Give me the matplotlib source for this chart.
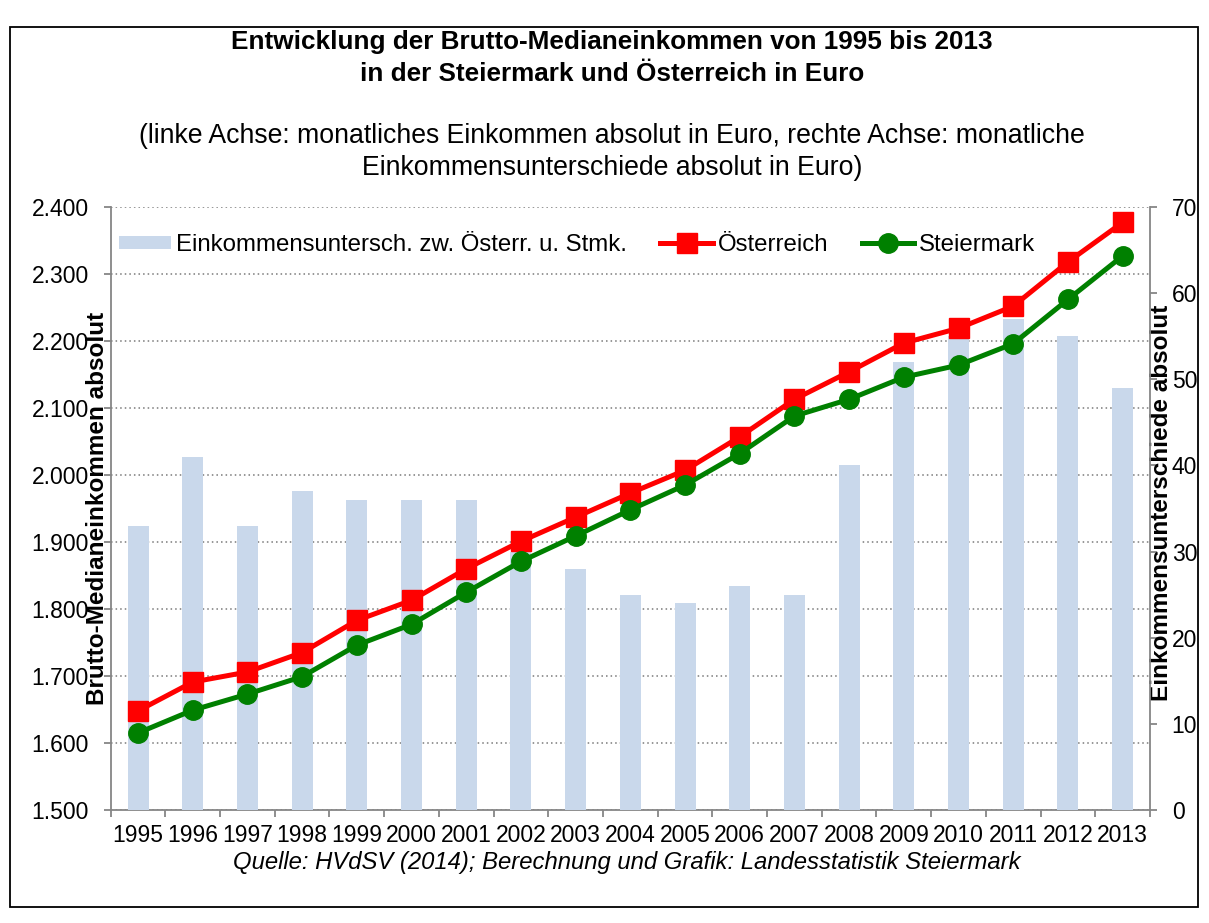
import numpy as np
import matplotlib
matplotlib.use("Agg")
import matplotlib.pyplot as plt
from matplotlib.patches import Rectangle
from matplotlib.ticker import FuncFormatter, MultipleLocator

plt.rcParams["font.family"] = ["Liberation Sans", "DejaVu Sans"]

years = [str(y) for y in range(1995, 2014)]
oesterreich = [1648, 1691, 1706, 1735, 1783, 1813, 1860, 1901, 1937, 1973,
               2007, 2057, 2113, 2154, 2197, 2219, 2252, 2318, 2377]
steiermark = [1615, 1649, 1673, 1699, 1746, 1777, 1825, 1871, 1909, 1948,
              1985, 2032, 2088, 2113, 2146, 2164, 2196, 2262, 2327]
differenz = [33, 41, 33, 37, 36, 36, 36, 30, 28, 25,
             24, 26, 25, 40, 52, 55, 57, 55, 49]

W, H = 1209, 923
fig = plt.figure(figsize=(W / 100, H / 100), dpi=100)

# plot area in pixels: x 110.7..1150, y 207..810
left, right, top, bottom = 110.7, 1150, 207, 810
rect = [left / W, 1 - bottom / H, (right - left) / W, (bottom - top) / H]

grey = "#868686"
x = np.arange(len(years))

ax = fig.add_axes(rect)
ax2 = ax.twinx()
ax3 = fig.add_axes(rect, sharex=ax, sharey=ax)
ax3.set_axis_off()

# left axis (income)
ax.set_ylim(1500, 2400)
ax.yaxis.set_major_locator(MultipleLocator(100))
ax.yaxis.set_major_formatter(FuncFormatter(lambda v, p: f"{v:,.0f}".replace(",", ".")))
ax.grid(axis="y", color="#7a7a7a", linestyle=(0, (1, 2)), linewidth=1.1)
ax.set_axisbelow(True)
ax.set_xlim(-0.5, len(years) - 0.5)
ax.set_xticks(x)
ax.set_xticklabels(years)
ax.set_xticks(np.arange(-0.5, len(years), 1), minor=True)
ax.tick_params(axis="x", which="major", length=0, pad=10, labelsize=16.5)
ax.tick_params(axis="x", which="minor", length=5, width=1.3, color=grey)
ax.tick_params(axis="y", length=5, width=1.3, color=grey, pad=10.8, labelsize=16.5)
for s in ["top", "right"]:
    ax.spines[s].set_visible(False)
for s in ["left", "bottom"]:
    ax.spines[s].set_color(grey)
    ax.spines[s].set_linewidth(1.3)

ax.set_ylabel("Brutto-Medianeinkommen absolut", fontsize=17.5, fontweight="bold")
ax.yaxis.set_label_coords(-0.002, 0.5)

# right axis (difference bars)
bars = ax2.bar(x, differenz, width=0.385, color="#c9d8eb",
               label="Einkommensuntersch. zw. Österr. u. Stmk.")
ax2.set_ylim(0, 70)
ax2.yaxis.set_major_locator(MultipleLocator(10))
ax2.tick_params(axis="y", length=5, width=1.3, color=grey, pad=10.6, labelsize=16.5)
for s in ["top", "left", "bottom"]:
    ax2.spines[s].set_visible(False)
ax2.spines["right"].set_color(grey)
ax2.spines["right"].set_linewidth(1.3)
ax2.set_ylabel("Einkommensunterschiede absolut", fontsize=17.5, fontweight="bold",
               rotation=90)
ax2.yaxis.set_label_coords(1.0, 0.51)

# lines on top of the bars
l1, = ax3.plot(x, oesterreich, color="#ff0000", linewidth=3.6, marker="s",
               markersize=14.5, label="Österreich")
l2, = ax3.plot(x, steiermark, color="#008000", linewidth=3.6, marker="o",
               markersize=14, label="Steiermark")

ax3.legend(handles=[bars, l1, l2], ncol=3, frameon=False, fontsize=17.3,
           loc="center left", bbox_to_anchor=(0.008, 0.937),
           borderaxespad=0, borderpad=0, handlelength=2.17,
           handletextpad=0.2, columnspacing=1.4, handleheight=0.5)

# titles
cx = 612 / W
fig.text(cx, 1 - 49 / H, "Entwicklung der Brutto-Medianeinkommen von 1995 bis 2013",
         ha="center", va="baseline", fontsize=18.8, fontweight="bold")
fig.text(cx, 1 - 81 / H, "in der Steiermark und Österreich in Euro",
         ha="center", va="baseline", fontsize=18.8, fontweight="bold")
fig.text(cx, 1 - 142.7 / H,
         "(linke Achse: monatliches Einkommen absolut in Euro, rechte Achse: monatliche",
         ha="center", va="baseline", fontsize=19.2)
fig.text(cx, 1 - 175 / H, "Einkommensunterschiede absolut in Euro)",
         ha="center", va="baseline", fontsize=19.2)
fig.text(627 / W, 1 - 869 / H,
         "Quelle: HVdSV (2014); Berechnung und Grafik: Landesstatistik Steiermark",
         ha="center", va="baseline", fontsize=17.2, style="italic")

# outer frame
fig.patches.append(Rectangle((10 / W, 1 - 907 / H), 1188 / W, 880 / H,
                             transform=fig.transFigure, fill=False,
                             edgecolor="black", linewidth=1.3))

fig.savefig("out.png", dpi=100)
